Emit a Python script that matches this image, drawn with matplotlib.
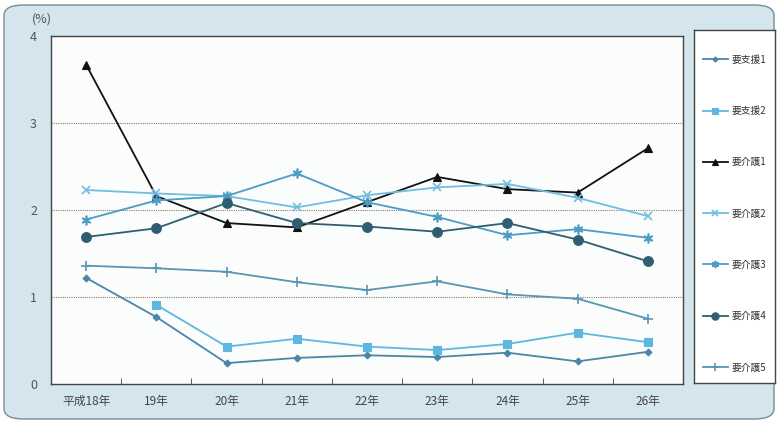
import matplotlib
matplotlib.use("Agg")
import matplotlib.pyplot as plt
from matplotlib.patches import FancyBboxPatch
import numpy as np

plt.rcParams['font.family'] = ['Noto Sans CJK JP', 'DejaVu Sans']

years = ['平成18年', '19年', '20年', '21年', '22年', '23年', '24年', '25年', '26年']
shien1 = [1.22, 0.77, 0.24, 0.30, 0.33, 0.31, 0.36, 0.26, 0.37]
shien2 = [None, 0.91, 0.43, 0.52, 0.43, 0.39, 0.46, 0.59, 0.48]
kaigo1 = [3.67, 2.16, 1.85, 1.80, 2.09, 2.38, 2.24, 2.20, 2.71]
kaigo2 = [2.23, 2.19, 2.16, 2.03, 2.17, 2.26, 2.30, 2.14, 1.93]
kaigo3 = [1.89, 2.11, 2.16, 2.42, 2.09, 1.92, 1.71, 1.78, 1.68]
kaigo4 = [1.69, 1.79, 2.08, 1.85, 1.81, 1.75, 1.85, 1.66, 1.41]
kaigo5 = [1.36, 1.33, 1.29, 1.17, 1.08, 1.18, 1.03, 0.98, 0.75]

series = [
    ('要支援1', shien1, '#4a86a6', 'D', 3.5),
    ('要支援2', shien2, '#5db7de', 's', 6),
    ('要介護1', kaigo1, '#111111', '^', 6),
    ('要介護2', kaigo2, '#72bde0', 'x', 6),
    ('要介護3', kaigo3, '#4d9cc6', (6, 2, 0), 7),
    ('要介護4', kaigo4, '#2f5e70', 'o', 7),
    ('要介護5', kaigo5, '#5896b4', '+', 7),
]

fig = plt.figure(figsize=(7.78, 4.23), dpi=100)
fig.patch.set_facecolor('white')
bg = FancyBboxPatch((4 / 778, 4 / 423), 770 / 778, 414 / 423,
                    boxstyle='round,pad=0,rounding_size=0.025',
                    transform=fig.transFigure, facecolor='#d4e5ee',
                    edgecolor='#7a8a92', linewidth=1.0, zorder=-10)
fig.patches.append(bg)

ax = fig.add_axes([51 / 778, 39 / 423, 632 / 778, 348 / 423])
ax.set_facecolor('#fbfcfc')
x = np.arange(len(years))
handles = []
for name, vals, col, mk, ms in series:
    v = np.array([np.nan if a is None else a for a in vals], dtype=float)
    h, = ax.plot(x, v, color=col, marker=mk, markersize=ms, linewidth=1.3,
                 markeredgewidth=1.2 if mk in ('x', '+') or isinstance(mk, tuple) else 0.8,
                 label=name)
    handles.append(h)

ax.set_xlim(-0.5, len(years) - 0.5)
ax.set_ylim(0, 4)
ax.set_yticks([0, 1, 2, 3, 4])
ax.set_yticklabels(['0', '1', '2', '3', '4'], color='#555555', fontsize=9)
ax.set_xticks(x)
ax.set_xticklabels(years, color='#444444', fontsize=8.5)
ax.set_xticks(np.arange(0.5, len(years) - 1, 1), minor=True)
ax.tick_params(axis='x', which='major', length=0, pad=8)
ax.tick_params(axis='x', which='minor', direction='in', length=4, color='#444444')
ax.tick_params(axis='y', length=0, pad=10)
for yv in [1, 2, 3]:
    ax.axhline(yv, color='#8a7f70', linestyle=(0, (1, 1)), linewidth=0.8, zorder=0)
for s in ax.spines.values():
    s.set_color('#444444')
    s.set_linewidth(1.0)
ax.text(-0.014, 1.03, '(%)', transform=ax.transAxes, color='#555555',
        fontsize=9, ha='center', va='bottom')

# legend box on the right
lax = fig.add_axes([694 / 778, 40 / 423, 81 / 778, 353 / 423])
lax.set_facecolor('white')
lax.set_xticks([])
lax.set_yticks([])
for s in lax.spines.values():
    s.set_color('#444444')
    s.set_linewidth(1.0)
lax.legend(handles=handles, loc='center', bbox_to_anchor=(0.5, 0.48),
           frameon=False, fontsize=7, labelspacing=4.25, handlelength=2.6,
           handletextpad=0.4, borderaxespad=0, labelcolor='#333333',
           markerscale=0.75)

fig.savefig('out.png', dpi=100)
